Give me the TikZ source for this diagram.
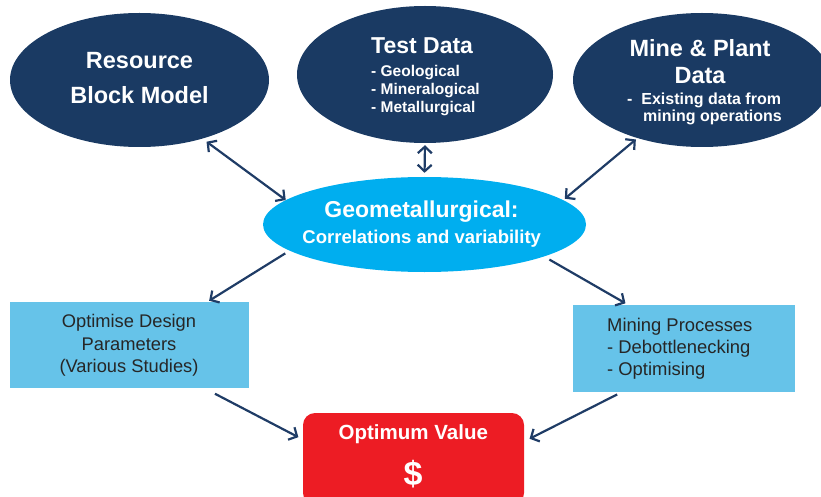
\documentclass[tikz,border=0pt]{standalone}
\usepackage{fontspec}
\setmainfont{Liberation Sans}
\usetikzlibrary{shapes.geometric,arrows.meta}

\definecolor{navy}{HTML}{1A3A63}
\definecolor{arrowblue}{HTML}{1F3C66}
\definecolor{cyanfill}{HTML}{00AEEF}
\definecolor{boxblue}{HTML}{66C3E9}
\definecolor{redfill}{HTML}{ED1C24}
\definecolor{boxtext}{HTML}{262626}

\begin{document}
\begin{tikzpicture}[x=1pt,y=-1pt,
  darkell/.style={ellipse, fill=navy, inner sep=0pt},
  geoell/.style={ellipse, fill=cyanfill, inner sep=0pt},
  infobox/.style={rectangle, fill=boxblue, inner sep=0pt},
  valuebox/.style={rectangle, rounded corners=12pt, fill=redfill, inner sep=0pt},
  wtext/.style={text=white, inner sep=0pt},
  btext/.style={text=boxtext, inner sep=0pt},
  tip/.tip={Straight Barb[length=6.5pt,width=14pt]},
  link/.style={draw=arrowblue, line width=2.2pt, -tip},
  dlink/.style={draw=arrowblue, line width=2.2pt, tip-tip},
]
\path[use as bounding box] (0,0) rectangle (821,497);
\clip (0,0) rectangle (821,497);

% shapes
\node[darkell, minimum width=259pt, minimum height=134pt] (rbm) at (139.5,80) {};
\node[darkell, minimum width=256pt, minimum height=137pt] (test) at (425,74.5) {};
\node[darkell, minimum width=258pt, minimum height=134pt] (mine) at (702,80) {};
\node[geoell, minimum width=323pt, minimum height=95pt] (geo) at (424.5,224.5) {};
\node[infobox, minimum width=239pt, minimum height=86pt] (opt) at (129.5,345) {};
\node[infobox, minimum width=222pt, minimum height=87pt] (proc) at (684,348.5) {};
\node[valuebox, minimum width=221pt, minimum height=92pt] (value) at (413.5,459) {};

% labels (base anchor sits on the last line's baseline)
\node[wtext, font=\fontsize{23.5}{35}\selectfont\bfseries, align=center, anchor=base] (rbm-t) at (139.5,103.3) {Resource\\Block Model};
\node[wtext, font=\fontsize{23}{26}\selectfont\bfseries, anchor=base west] (test-t) at (371,53.3) {Test Data};
\node[wtext, font=\fontsize{15.5}{18}\selectfont\bfseries, align=left, anchor=base west] (test-l) at (371,112.3) {- Geological\\- Mineralogical\\- Metallurgical};
\node[wtext, font=\fontsize{23.5}{26.7}\selectfont\bfseries, align=center, anchor=base] (mine-t) at (700,83.3) {Mine \& Plant\\Data};
\node[wtext, font=\fontsize{16}{17.4}\selectfont\bfseries, align=left, anchor=base west] (mine-l) at (627,121.7) {-\ \ Existing data from\\\hspace*{16pt}mining operations};
\node[wtext, font=\fontsize{23}{26}\selectfont\bfseries, anchor=base] (geo-t) at (421.5,217.3) {Geometallurgical:};
\node[wtext, font=\fontsize{18.5}{22}\selectfont\bfseries, anchor=base] (geo-s) at (421.7,243.3) {Correlations and variability};
\node[btext, font=\fontsize{18.3}{22.5}\selectfont, align=center, anchor=base] (opt-t) at (129,372.7) {Optimise Design\\Parameters\\(Various Studies)};
\node[btext, font=\fontsize{18.4}{22.3}\selectfont, align=left, anchor=base west] (proc-t) at (607,375.7) {Mining Processes\\- Debottlenecking\\- Optimising};
\node[wtext, font=\fontsize{20.5}{24}\selectfont\bfseries, anchor=base] (value-t) at (413.3,439) {Optimum Value};
\node[wtext, font=\fontsize{34}{40}\selectfont\bfseries, anchor=base] (value-s) at (413,485) {\$};

% connectors
\draw[dlink, shorten <=5pt] (rbm.-43) -- (geo.170.6);
\draw[dlink, shorten <=2pt, shorten >=4pt] (test.south) -- (geo.north);
\draw[dlink, shorten <=2pt, shorten >=2pt] (mine.222) -- (geo.10.8);
\draw[link, shorten <=5pt, shorten >=2pt] (geo.191) -- (opt.29.7);
\draw[link, shorten <=6pt, shorten >=3pt] (geo.-15.6) -- (proc.142.7);
\draw[link, shorten <=12pt, shorten >=5pt] (opt.-30.4) -- (value.170.7);
\draw[link, shorten <=5pt, shorten >=6pt] (proc.215.2) -- (value.9.3);
\end{tikzpicture}
\end{document}
